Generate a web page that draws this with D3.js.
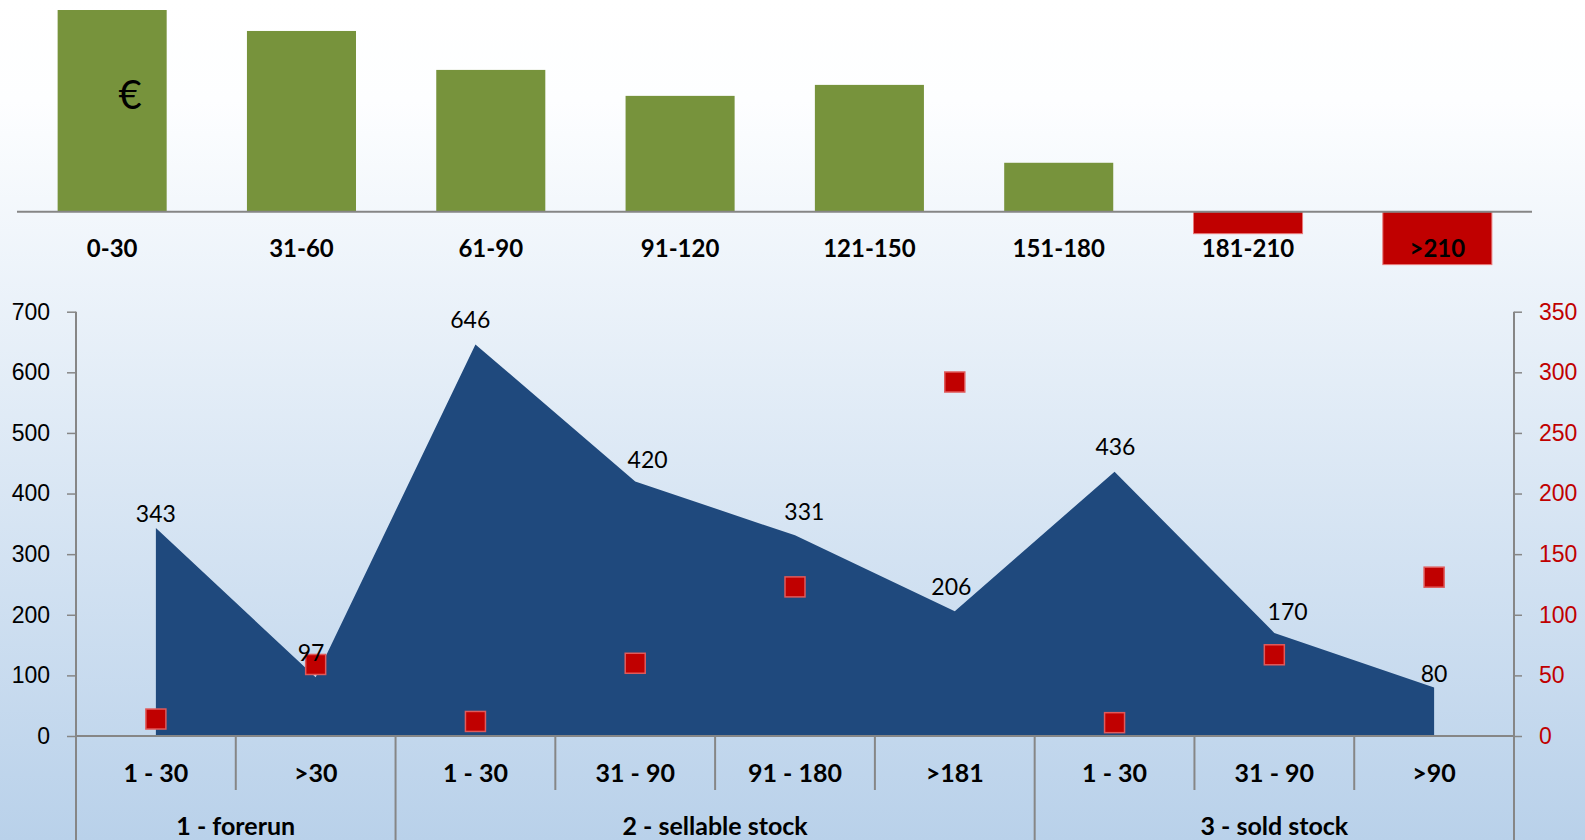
<!DOCTYPE html>
<html>
<head>
<meta charset="utf-8">
<script src="https://cdn.jsdelivr.net/npm/d3@7"></script>
<style>
  html, body { margin: 0; padding: 0; }
  body { width: 1585px; height: 840px; overflow: hidden; }
  svg { display: block; font-family: Lato, "Open Sans", sans-serif; }
</style>
</head>
<body>
<svg id="chart" width="1585" height="840"></svg>
<script>
// ---------- data ----------
const bucketLabels = ["0-30", "31-60", "61-90", "91-120", "121-150", "151-180", "181-210", ">210"];
const bucketValues = [202, 181, 142, 116, 127, 49, -22, -53];

const stockLabels = ["1 - 30", ">30", "1 - 30", "31 - 90", "91 - 180", ">181", "1 - 30", "31 - 90", ">90"];
const stockGroupOf = [0, 0, 1, 1, 1, 1, 2, 2, 2];
const groupLabels = ["1 - forerun", "2 - sellable stock", "3 - sold stock"];
const stockValues = [343, 97, 646, 420, 331, 206, 436, 170, 80];
const ageValues = [14, 59, 12, 60, 123, 292, 11, 67, 131];

const leftTicks = [0, 100, 200, 300, 400, 500, 600, 700];
const rightTicks = [0, 50, 100, 150, 200, 250, 300, 350];

const W = 1585, H = 840;
const GREEN = "#77933c", RED = "#c00000", NAVY = "#1f497d", GREY = "#868686";

const svg = d3.select("#chart");

// background gradient
const defs = svg.append("defs");
const bg = defs.append("linearGradient").attr("id", "bg").attr("x1", 0).attr("y1", 0).attr("x2", 0).attr("y2", 1);
bg.append("stop").attr("offset", "0%").attr("stop-color", "#ffffff");
bg.append("stop").attr("offset", "12%").attr("stop-color", "#fdfeff");
bg.append("stop").attr("offset", "100%").attr("stop-color", "#b9d1ea");
svg.append("rect").attr("width", W).attr("height", H).attr("fill", "url(#bg)");

// ---------- top: aging buckets ----------
const xb = d3.scaleBand().domain(bucketLabels).range([17.5, 1532]).paddingInner(0.424).paddingOuter(0.212);
const yb = d3.scaleLinear().domain([0, 202]).range([211.7, 10]);

const topG = svg.append("g");
topG.selectAll("rect.bucket")
  .data(bucketValues)
  .join("rect")
  .attr("class", "bucket")
  .attr("x", (d, i) => xb(bucketLabels[i]))
  .attr("width", xb.bandwidth())
  .attr("y", (d) => Math.min(yb(d), yb(0)))
  .attr("height", (d) => Math.abs(yb(d) - yb(0)))
  .attr("fill", (d) => (d < 0 ? RED : GREEN))
  .attr("stroke", (d) => (d < 0 ? "#e87a7a" : "none"))
  .attr("stroke-width", 1);

topG.append("line")
  .attr("x1", 17).attr("x2", 1532)
  .attr("y1", yb(0)).attr("y2", yb(0))
  .attr("stroke", GREY).attr("stroke-width", 2);

topG.selectAll("text.bucket-label")
  .data(bucketLabels)
  .join("text")
  .attr("class", "bucket-label")
  .attr("x", (d) => xb(d) + xb.bandwidth() / 2)
  .attr("y", 256.5)
  .attr("text-anchor", "middle")
  .attr("font-size", 24)
  .attr("font-weight", 700)
  .attr("fill", "#000")
  .text((d) => d);

topG.append("text")
  .attr("x", 130).attr("y", 109)
  .attr("text-anchor", "middle")
  .attr("font-size", 40)
  .attr("fill", "#000")
  .text("€");

// ---------- bottom: stock combo ----------
const x = d3.scaleBand().domain(d3.range(stockLabels.length)).range([76, 1514]);
const cx = (i) => x(i) + x.bandwidth() / 2;
const yL = d3.scaleLinear().domain([0, 700]).range([736, 311.7]);
const yR = d3.scaleLinear().domain([0, 350]).range([736, 311.7]);

const bottomG = svg.append("g");

const area = d3.area()
  .x((d, i) => cx(i))
  .y0(yL(0))
  .y1((d) => yL(d));

bottomG.append("path")
  .datum(stockValues)
  .attr("d", area)
  .attr("fill", NAVY);

// left axis
const axL = bottomG.append("g")
  .attr("transform", `translate(76,0)`)
  .call(d3.axisLeft(yL).tickValues(leftTicks).tickSize(9).tickPadding(17).tickSizeOuter(0));
axL.select(".domain").remove();
axL.selectAll("line").attr("stroke", GREY).attr("stroke-width", 1.5);
axL.selectAll("text").attr("font-size", 23).attr("fill", "#000").attr("font-family", null);

// right axis
const axR = bottomG.append("g")
  .attr("transform", `translate(1514,0)`)
  .call(d3.axisRight(yR).tickValues(rightTicks).tickSize(8).tickPadding(17).tickSizeOuter(0));
axR.select(".domain").remove();
axR.selectAll("line").attr("stroke", GREY).attr("stroke-width", 1.5);
axR.selectAll("text").attr("font-size", 23).attr("fill", RED).attr("font-family", null);

// vertical axis lines running down through the category table
[76, 1514].forEach((ax) => {
  bottomG.append("line")
    .attr("x1", ax).attr("x2", ax)
    .attr("y1", yL(700)).attr("y2", H)
    .attr("stroke", GREY).attr("stroke-width", 2);
});

// zero line
bottomG.append("line")
  .attr("x1", 76).attr("x2", 1514)
  .attr("y1", yL(0)).attr("y2", yL(0))
  .attr("stroke", GREY).attr("stroke-width", 2);

// dividers between sub categories and groups
const inner = d3.range(1, stockLabels.length);
bottomG.selectAll("line.divider")
  .data(inner)
  .join("line")
  .attr("class", "divider")
  .attr("x1", (i) => x(i)).attr("x2", (i) => x(i))
  .attr("y1", yL(0))
  .attr("y2", (i) => (stockGroupOf[i] !== stockGroupOf[i - 1] ? H : 790))
  .attr("stroke", GREY).attr("stroke-width", 2);

bottomG.selectAll("text.sub-label")
  .data(stockLabels)
  .join("text")
  .attr("class", "sub-label")
  .attr("x", (d, i) => cx(i))
  .attr("y", 782)
  .attr("text-anchor", "middle")
  .attr("font-size", 25)
  .attr("font-weight", 700)
  .attr("fill", "#000")
  .text((d) => d);

bottomG.selectAll("text.group-label")
  .data(groupLabels)
  .join("text")
  .attr("class", "group-label")
  .attr("x", (d, g) => {
    const idx = stockGroupOf.map((v, i) => (v === g ? i : -1)).filter((i) => i >= 0);
    return (x(idx[0]) + x(idx[idx.length - 1]) + x.bandwidth()) / 2;
  })
  .attr("y", 835)
  .attr("text-anchor", "middle")
  .attr("font-size", 25)
  .attr("font-weight", 700)
  .attr("fill", "#000")
  .text((d) => d);

// red markers on the right axis
const S = 20;
bottomG.selectAll("rect.marker")
  .data(ageValues)
  .join("rect")
  .attr("class", "marker")
  .attr("x", (d, i) => cx(i) - S / 2)
  .attr("y", (d) => yR(d) - S / 2)
  .attr("width", S)
  .attr("height", S)
  .attr("fill", RED)
  .attr("stroke", "#e05a5a")
  .attr("stroke-width", 1.5);

// data labels pushed away from the area outline, along the corner bisector
function labelPos(i) {
  const px = cx(i), py = yL(stockValues[i]);
  const n = stockValues.length;
  if (i === 0 || i === n - 1) return [px, py - 14];
  const unit = (j) => {
    const dx = cx(j) - px, dy = yL(stockValues[j]) - py;
    const len = Math.hypot(dx, dy);
    return [dx / len, dy / len];
  };
  const a = unit(i - 1), b = unit(i + 1);
  let vx = a[0] + b[0], vy = a[1] + b[1];
  if (vy > 0) { vx = -vx; vy = -vy; }
  const len = Math.hypot(vx, vy) || 1;
  return [px + (vx / len) * 25, py + (vy / len) * 25];
}

bottomG.selectAll("text.value-label")
  .data(stockValues)
  .join("text")
  .attr("class", "value-label")
  .attr("x", (d, i) => labelPos(i)[0])
  .attr("y", (d, i) => labelPos(i)[1])
  .attr("dy", "0.36em")
  .attr("text-anchor", "middle")
  .attr("font-size", 23)
  .attr("fill", "#000")
  .text((d) => d);
</script>
</body>
</html>
